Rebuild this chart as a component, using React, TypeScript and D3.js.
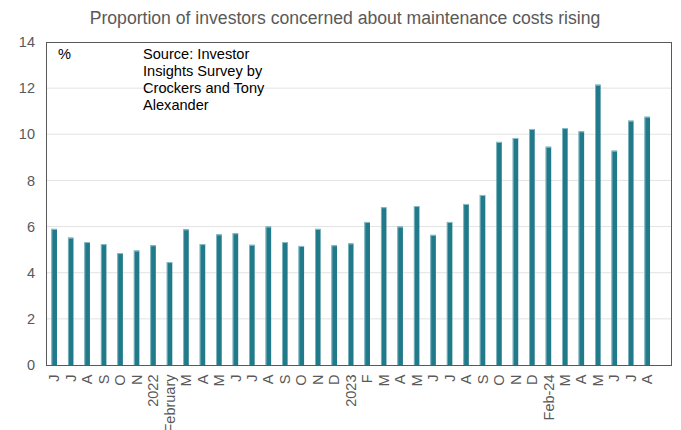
import React from "react";
import * as d3 from "d3";

const labels: string[] = [
  "J", "J", "A", "S", "O", "N", "2022", "February", "M", "A", "M", "J", "J", "A", "S", "O", "N", "D",
  "2023", "F", "M", "A", "M", "J", "J", "A", "S", "O", "N", "D", "Feb-24", "M", "A", "M", "J", "J", "A",
];
const values: number[] = [
  5.9, 5.52, 5.33, 5.24, 4.85, 4.96, 5.19, 4.46, 5.88, 5.24, 5.66, 5.71, 5.21, 6.0, 5.33, 5.16, 5.9, 5.19,
  5.27, 6.2, 6.84, 6.0, 6.89, 5.64, 6.2, 6.98, 7.37, 9.67, 9.84, 10.23, 9.46, 10.27, 10.13, 12.15, 9.29, 10.59, 10.76,
];
const yTicks: number[] = [0, 2, 4, 6, 8, 10, 12, 14];
const title = "Proportion of investors concerned about maintenance costs rising";
const sourceLines: string[] = ["Source: Investor", "Insights Survey by", "Crockers and Tony", "Alexander"];

const W = 681, H = 430;
const left = 46, right = 672, top = 42, bottom = 365;
const font = "'Liberation Sans', Arial, sans-serif";

export default function App() {
  const slots = d3.range(labels.length + 1);
  const x = d3.scaleBand<number>().domain(slots).range([left, right]).paddingInner(0).paddingOuter(0);
  const y = d3.scaleLinear().domain([0, 14]).range([bottom, top]);
  const bw = 5.5;
  return (
    <svg width={W} height={H} style={{ position: "absolute", left: 0, top: 0, background: "#fff" }} fontFamily={font}>
      <text x={345} y={24} textAnchor="middle" fontSize={17.6} fill="#595959">{title}</text>
      {yTicks.map((t) => (
        <g key={t}>
          {t > 0 && t < 14 && <line x1={left} x2={right} y1={y(t)} y2={y(t)} stroke="#e3e3e3" strokeWidth={1} />}
          <text x={35} y={y(t)} dy="0.35em" textAnchor="end" fontSize={14.5} fill="#595959">{t}</text>
        </g>
      ))}
      {values.map((v, i) => {
        const cx = (x(i) as number) + x.bandwidth() / 2;
        return (
          <g key={i}>
            <rect x={cx - bw / 2} y={y(v)} width={bw} height={y(0) - y(v)} fill="#217a8a" />
            <rect x={cx - bw / 2} y={y(v)} width={bw} height={1} fill="#8fbfc8" />
            <rect x={cx - bw / 2} y={y(v)} width={0.8} height={y(0) - y(v)} fill="#8fbfc8" />
          </g>
        );
      })}
      <rect x={left + 0.5} y={top + 0.5} width={right - left - 1} height={bottom - top} fill="none" stroke="#595959" strokeWidth={1} />
      {labels.map((l, i) => {
        const cx = (x(i) as number) + x.bandwidth() / 2;
        return (
          <text key={i} transform={`translate(${cx},374.5) rotate(-90)`} dy="0.35em" textAnchor="end" fontSize={14.5} fill="#595959">{l}</text>
        );
      })}
      <text x={58} y={59} fontSize={14.6} fill="#000">%</text>
      {sourceLines.map((s, i) => (
        <text key={i} x={143} y={59 + i * 17} fontSize={14.6} fill="#000">{s}</text>
      ))}
    </svg>
  );
}
